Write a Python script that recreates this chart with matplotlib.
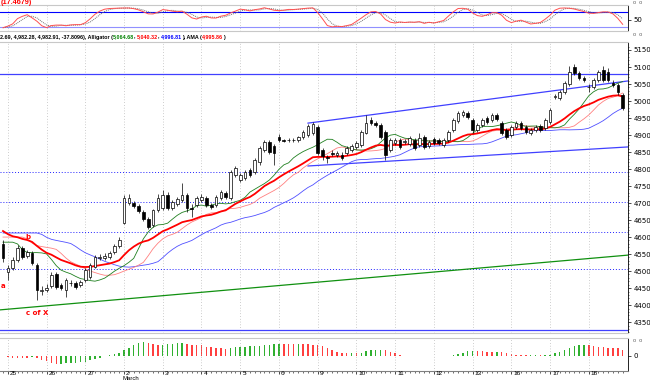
import numpy as np
import pandas as pd
import matplotlib
matplotlib.use('Agg')
import matplotlib.pyplot as plt

# hourly bars, 8 per day
OPEN = [4580, 4497, 4509, 4533, 4568, 4544, 4553, 4518, 4441, 4444,
        4456, 4491, 4459, 4444, 4465, 4465, 4459, 4474, 4483, 4512,
        4538, 4538, 4541, 4556, 4574, 4641, 4700, 4700, 4691, 4674,
        4653, 4636, 4680, 4685, 4724, 4685, 4697, 4709, 4724, 4685,
        4694, 4709, 4715, 4694, 4694, 4715, 4730, 4715, 4783, 4768,
        4774, 4797, 4791, 4821, 4856, 4879, 4868, 4894, 4885, 4885,
        4884, 4885, 4894, 4900, 4906, 4924, 4856, 4835, 4847, 4841,
        4841, 4847, 4856, 4865, 4871, 4906, 4944, 4935, 4930, 4909,
        4856, 4877, 4885, 4879, 4874, 4885, 4871, 4894, 4868, 4888,
        4885, 4871, 4885, 4915, 4941, 4959, 4965, 4944, 4915, 4930,
        4950, 4944, 4959, 4935, 4915, 4900, 4924, 4935, 4924, 4906,
        4915, 4927, 4921, 4938, 5012, 5009, 5027, 5050, 5100, 5082,
        5068, 5041, 5041, 5062, 5091, 5085, 5053, 5047, 5018]
HIGH = [4591, 4518, 4541, 4577, 4574, 4562, 4559, 4524, 4456, 4462,
        4497, 4497, 4465, 4480, 4474, 4471, 4474, 4509, 4524, 4547,
        4550, 4553, 4559, 4580, 4600, 4724, 4727, 4706, 4697, 4680,
        4659, 4683, 4727, 4738, 4733, 4709, 4718, 4759, 4730, 4697,
        4721, 4727, 4721, 4700, 4724, 4738, 4735, 4797, 4809, 4788,
        4797, 4803, 4832, 4868, 4885, 4885, 4874, 4903, 4888, 4891,
        4891, 4897, 4915, 4932, 4938, 4930, 4862, 4841, 4856, 4853,
        4850, 4868, 4874, 4882, 4915, 4959, 4953, 4941, 4935, 4915,
        4891, 4891, 4891, 4888, 4897, 4891, 4906, 4900, 4885, 4894,
        4891, 4891, 4915, 4950, 4971, 4973, 4971, 4950, 4935, 4950,
        4956, 4965, 4965, 4941, 4921, 4930, 4941, 4941, 4930, 4921,
        4930, 4932, 4950, 4979, 5021, 5032, 5059, 5103, 5109, 5088,
        5074, 5050, 5068, 5091, 5103, 5097, 5062, 5053, 5024]
LOW = [4527, 4474, 4503, 4527, 4535, 4538, 4518, 4415, 4430, 4438,
       4450, 4447, 4444, 4424, 4456, 4447, 4453, 4468, 4477, 4509,
       4533, 4533, 4535, 4550, 4568, 4638, 4694, 4685, 4671, 4647,
       4624, 4630, 4674, 4680, 4680, 4680, 4691, 4703, 4674, 4659,
       4688, 4703, 4688, 4682, 4688, 4709, 4712, 4709, 4777, 4762,
       4768, 4777, 4785, 4812, 4850, 4844, 4812, 4879, 4879, 4879,
       4879, 4879, 4888, 4894, 4900, 4841, 4827, 4818, 4838, 4835,
       4827, 4841, 4850, 4859, 4865, 4903, 4930, 4924, 4888, 4827,
       4850, 4871, 4859, 4874, 4868, 4856, 4865, 4859, 4862, 4871,
       4871, 4865, 4879, 4909, 4935, 4953, 4947, 4906, 4909, 4924,
       4932, 4938, 4941, 4900, 4888, 4894, 4918, 4915, 4903, 4900,
       4909, 4909, 4915, 4932, 5006, 5003, 5021, 5044, 5077, 5062,
       5056, 5027, 5035, 5056, 5056, 5056, 5041, 5018, 4973]
CLOSE = [4538, 4509, 4533, 4568, 4541, 4556, 4524, 4444, 4443, 4450,
         4488, 4453, 4450, 4474, 4466, 4453, 4468, 4503, 4518, 4541,
         4541, 4544, 4553, 4574, 4591, 4715, 4715, 4691, 4677, 4653,
         4630, 4680, 4715, 4724, 4685, 4703, 4712, 4724, 4685, 4682,
         4715, 4718, 4694, 4688, 4718, 4733, 4718, 4791, 4803, 4783,
         4791, 4783, 4827, 4862, 4879, 4850, 4847, 4885, 4882, 4884,
         4885, 4894, 4909, 4927, 4932, 4847, 4838, 4832, 4844, 4847,
         4832, 4862, 4868, 4877, 4909, 4935, 4935, 4930, 4894, 4841,
         4885, 4885, 4865, 4882, 4891, 4862, 4891, 4865, 4879, 4877,
         4877, 4885, 4909, 4944, 4965, 4968, 4953, 4915, 4930, 4944,
         4938, 4959, 4947, 4906, 4894, 4924, 4935, 4921, 4909, 4915,
         4924, 4915, 4944, 4973, 5015, 5027, 5053, 5085, 5082, 5068,
         5062, 5042, 5062, 5085, 5062, 5062, 5047, 5027, 4979]

DAY_LABELS = ['25', '26', '27', '2', '3', '4', '5', '6', '9', '10',
              '11', '12', '13', '16', '17', '18']
BARS_PER_DAY = 8

# where the indicator lines enter the chart on the left
SEED_JAW, SEED_TEETH, SEED_LIPS, SEED_AMA = 4612, 4600, 4585, 4625
PRE_LEVEL_AO = 4560

# drawn lines: (bar0, price0, bar1, price1)
TREND_GREEN = (-0.6, 4386, 129.1, 4547)
CHANNEL_UP = (63.0, 4935, 129.1, 5059)
CHANNEL_LOW = (63.0, 4809, 129.1, 4865)
RESIST = 5079
BOTTOM_LINE = 4327
DOTTED_LEVELS = [4791, 4703, 4615, 4506]

HEADER = [('2.69, 4,982.28, 4,982.91, -37.8096), Alligator (', 'black'),
          ('5,064.68', '#008000'), (', ', 'black'), ('5,040.32', 'red'),
          (', ', 'black'), ('4,996.81', 'blue'), ('), AMA (', 'black'),
          ('4,995.86', 'red'), (')', 'black')]
STOCH_LABEL = '(17.4679)'

W, H = 650, 381
o, h, l, c = (np.array(a, float) for a in (OPEN, HIGH, LOW, CLOSE))
n = len(c)
x = np.arange(n)
xlim = (-0.62, 129.1)
days = np.arange(1, n, BARS_PER_DAY)
narrow = ['Liberation Sans Narrow', 'Liberation Sans', 'DejaVu Sans']


def rect(x0, y0, x1, y1):
    return [x0 / W, 1 - y1 / H, (x1 - x0) / W, (y1 - y0) / H]


def smma(v, period, seed, shift=0):
    out = []
    s = seed
    for val in v:
        s = (s * (period - 1) + val) / period
        out.append(s)
    out = [seed] * shift + out
    return np.array(out[:len(v)])


med = (h + l) / 2
jaw = smma(med, 13, SEED_JAW, 8)
teeth = smma(med, 8, SEED_TEETH, 5)
lips = smma(med, 5, SEED_LIPS, 3)
ama = smma(c, 12, SEED_AMA)

df = pd.DataFrame({'h': h, 'l': l, 'c': c})
ll = df['l'].rolling(14, min_periods=1).min()
hh = df['h'].rolling(14, min_periods=1).max()
k = 100 * (df['c'] - ll) / (hh - ll).replace(0, np.nan)
slow_k = k.rolling(3, min_periods=1).mean()
slow_d = slow_k.rolling(3, min_periods=1).mean()

ms = pd.Series(np.concatenate([[PRE_LEVEL_AO] * 33, med]))
ao = (ms.rolling(5).mean() - ms.rolling(34).mean()).values[33:]

fig = plt.figure(figsize=(W / 100, H / 100), dpi=100)
fig.patch.set_facecolor('white')
fs = 5


def style(ax):
    ax.set_xlim(xlim)
    ax.yaxis.tick_right()
    ax.tick_params(axis='y', labelsize=fs, length=2, width=0.5, pad=2)
    ax.tick_params(axis='x', length=0, labelbottom=False)
    for s in ['left', 'top', 'bottom']:
        ax.spines[s].set_color('#c8c8c8')
        ax.spines[s].set_linewidth(0.8)
    ax.spines['left'].set_visible(False)
    ax.spines['right'].set_linewidth(0.6)
    ax.set_xticks(days)
    ax.grid(axis='x', color='#a0a0a0', linestyle=(0, (1, 3)), linewidth=0.5)


# stochastic panel
ax1 = fig.add_axes(rect(0, 5, 628, 31))
style(ax1)
ax1.set_ylim(4, 108)
ax1.set_yticks([50])
ax1.axhline(80, color='#0000ff', lw=0.8)
ax1.axhline(20, color='#9090ff', lw=0.8)
ax1.plot(x, slow_d, color='#707070', lw=0.7, linestyle=(0, (1, 1)))
ax1.plot(x, slow_k, color='#ff5050', lw=0.7)
fig.text(1 / W, 1 - 3 / H, STOCH_LABEL, color='red', fontsize=5.2, fontweight='bold',
         va='center', family=narrow)

# main price panel
ax = fig.add_axes(rect(0, 42, 628, 333))
style(ax)
ax.set_ylim(4318, 5173.5)
ax.set_yticks(np.arange(4350, 5151, 50))
ax.set_yticks(np.arange(4320, 5170, 10), minor=True)
ax.tick_params(axis='y', which='minor', length=1, width=0.4)

for lev in DOTTED_LEVELS:
    ax.axhline(lev, color='#2020ff', lw=0.7, linestyle=(0, (1, 2)))
ax.axhline(RESIST, color='#4040ff', lw=0.9)
ax.axhline(BOTTOM_LINE, color='#4040ff', lw=0.9)
for ln, col in [(TREND_GREEN, '#109010'), (CHANNEL_UP, '#4040ff'), (CHANNEL_LOW, '#4040ff')]:
    ax.plot([ln[0], ln[2]], [ln[1], ln[3]], color=col, lw=0.9)

ax.plot(x, jaw, color='#5050ff', lw=0.6)
ax.plot(x, teeth, color='#ff8080', lw=0.6)
ax.plot(x, lips, color='#208020', lw=0.6)
ax.plot(x, ama, color='#ff0000', lw=1.3)

up = c >= o
ax.vlines(x, l, h, color='black', lw=0.5, zorder=3)
ax.bar(x[up], (c - o)[up], bottom=o[up], width=0.55, color='white', edgecolor='black', lw=0.5, zorder=4)
ax.bar(x[~up], (o - c)[~up], bottom=c[~up], width=0.55, color='black', edgecolor='black', lw=0.5, zorder=4)

ax.text(-0.4, 4456, 'a', color='red', fontsize=fs, fontweight='bold', va='center')
ax.text(4.6, 4600, 'b', color='red', fontsize=fs, fontweight='bold', va='center')
ax.text(7.0, 4377, 'c of X', color='red', fontsize=fs, fontweight='bold', va='center', ha='center')

# awesome oscillator panel
ax3 = fig.add_axes(rect(0, 338, 628, 371))
style(ax3)
span = np.nanmax(np.abs(ao))
ax3.set_ylim(-span * 15 / 14, span * 18 / 14)
ax3.set_yticks([0])
col = ['#30b030' if i > 0 and ao[i] > ao[i - 1] else '#ff4040' for i in range(n)]
ax3.bar(x, ao, width=0.3, color=col)
ax3.spines['bottom'].set_color('#808080')
ax3.set_xticks(days)
ax3.set_xticklabels([])
ax3.set_xticks(x, minor=True)
ax3.tick_params(axis='x', which='major', length=2.5, width=0.5)
ax3.tick_params(axis='x', which='minor', length=1.5, width=0.4)
for d, lab in zip(days, DAY_LABELS):
    ax3.annotate(lab, (d, 0), xycoords=('data', 'axes fraction'), xytext=(1.5, -0.3),
                 textcoords='offset points', fontsize=4.6, ha='left', va='top', family=narrow)
ax3.annotate('March', (days[3], 0), xycoords=('data', 'axes fraction'), xytext=(-1, -7.4),
             textcoords='offset points', fontsize=4.3, ha='left', va='bottom', family=narrow)

# small panel buttons at the right
for yy in [3, 35, 340]:
    fig.text(633 / W, 1 - yy / H, 'o  o', fontsize=4, color='#606060', va='center', family=narrow)

# header line with coloured values
fig.canvas.draw()
rend = fig.canvas.get_renderer()
px = 0
for s, colr in HEADER:
    t = fig.text(px / W, 1 - 37 / H, s, color=colr, fontsize=3.9, va='center', ha='left',
                 family=narrow, fontweight='bold')
    px += t.get_window_extent(rend).width

fig.savefig('out.png', dpi=100)
